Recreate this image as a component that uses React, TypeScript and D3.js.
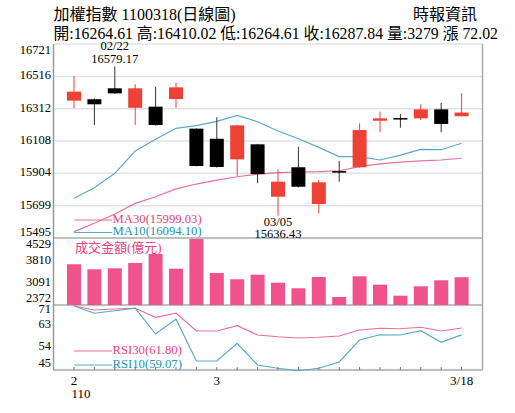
import { useEffect, useRef } from 'react'
import * as d3 from 'd3'

// 日期 (2021/110年 交易日)
const dates = ['02/19', '02/20', '02/22', '02/23', '02/24', '02/25', '02/26', '03/02', '03/03', '03/04',
  '03/05', '03/08', '03/09', '03/10', '03/11', '03/12', '03/15', '03/16', '03/17', '03/18']
const opens = [16363, 16372, 16441, 16318, 16325, 16373, 16186, 16122, 15992, 16087,
  15756, 15942, 15710, 15918, 15942, 16236, 16253, 16251, 16308, 16264.61]
const highs = [16519, 16378, 16579.17, 16466, 16451, 16476, 16188, 16258, 16210, 16090,
  15929, 16072, 15861, 15983, 16220, 16293, 16279, 16340, 16350, 16410.02]
const lows = [16315, 16209, 16405, 16209, 16205, 16318, 15948, 15940, 15887, 15841,
  15636.43, 15815, 15651, 15851, 15940, 16163, 16192, 16241, 16163, 16264.61]
const closes = [16420, 16340, 16409, 16441, 16209, 16447, 15950, 15944, 16207, 15899,
  15851, 15819, 15847, 15908, 16177, 16251, 16245, 16308, 16215.82, 16287.84]
const ma10 = [15746, 15813, 15904, 16045, 16119, 16188, 16205, 16232, 16270, 16230,
  16171, 16122, 16068, 16009, 16009, 15988, 16019, 16055, 16053, 16094.1]
const ma30 = [15535, 15588, 15647, 15714, 15756, 15805, 15836, 15861, 15882, 15899,
  15908, 15912, 15914, 15920, 15946, 15963, 15975, 15982, 15988, 15999.03]
const volumes = [3703, 3539, 3572, 3745, 4040, 3559, 4529, 3418, 3212, 3363,
  3101, 2918, 3288, 2634, 3310, 3036, 2676, 2983, 3180, 3279]
const rsi30 = [70.6, 69.0, 69.4, 69.7, 66.1, 67.7, 60.6, 60.6, 62.7, 59.0,
  58.3, 57.8, 58.1, 58.6, 61.0, 61.7, 61.5, 62.1, 60.6, 61.8]
const rsi10 = [70.6, 67.7, 68.7, 69.7, 59.4, 65.3, 48.6, 48.6, 55.7, 47.0,
  45.7, 44.7, 45.7, 48.2, 57.0, 59.1, 59.0, 60.7, 56.1, 59.07]

const priceTicks = [15495, 15699, 15904, 16108, 16312, 16516, 16721]
const volTicks = [2372, 3091, 3810, 4529]
const rsiTicks = [45, 54, 63, 71]
const monthLabels = [{ i: 0, text: '2' }, { i: 7, text: '3' }, { i: 19, text: '3/18' }]

const W = 515
const H = 413
const L = 53.5
const R = 482.5
const TOP = 44
const P_BOT = 238
const V_BOT = 305
const R_BOT = 370

const RED = '#ee4136'
const PINK_BAR = '#f0528b'
const MA10_C = '#5aa9c6'
const MA30_C = '#e57394'
const MA10_TXT = '#1a96b4'
const MA30_TXT = '#e8437c'
const SERIF = '"Liberation Serif", "Times New Roman", "Noto Sans CJK TC", serif'

export default function App() {
  const svgRef = useRef<SVGSVGElement>(null)

  useEffect(() => {
    const svg = d3.select(svgRef.current)
    svg.selectAll('*').remove()
    svg.attr('font-family', SERIF)

    const n = dates.length
    const x = d3.scaleLinear().domain([0, n - 1]).range([74, 461.6])
    const yP = d3.scaleLinear().domain([15495, 16721]).range([P_BOT, TOP])
    const yV = d3.scaleLinear().domain([2372, 4529]).range([V_BOT, 239])
    const yR = d3.scaleLinear().domain([45, 71]).range([R_BOT, 305])
    const bw = 14

    // ── 標題 ──
    svg.append('text').attr('x', L).attr('y', 20).attr('font-size', 16)
      .text('加權指數 1100318(日線圖)')
    svg.append('text').attr('x', 477).attr('y', 20).attr('font-size', 16)
      .attr('text-anchor', 'end').text('時報資訊')
    const last = n - 1
    const chg = closes[last] - closes[last - 1]
    svg.append('text').attr('x', L).attr('y', 39).attr('font-size', 15.8)
      .text(`開:${opens[last].toFixed(2)} 高:${highs[last].toFixed(2)} 低:${lows[last].toFixed(2)} 收:${closes[last].toFixed(2)} 量:${volumes[last]} 漲 ${chg.toFixed(2)}`)

    // ── 格線 ──
    priceTicks.slice(1, -1).forEach((t) => {
      svg.append('line').attr('x1', L).attr('x2', R).attr('y1', yP(t)).attr('y2', yP(t))
        .attr('stroke', '#e2e2e2').attr('stroke-width', 1.5)
    })
    svg.append('line').attr('x1', L).attr('x2', R).attr('y1', TOP).attr('y2', TOP)
      .attr('stroke', '#e2e2e2').attr('stroke-width', 1.5)
    ;[P_BOT, V_BOT, R_BOT].forEach((yy) => {
      svg.append('line').attr('x1', L).attr('x2', R).attr('y1', yy).attr('y2', yy)
        .attr('stroke', '#aaa').attr('stroke-width', 1.5)
    })
    svg.append('line').attr('x1', L).attr('x2', L).attr('y1', TOP).attr('y2', R_BOT)
      .attr('stroke', '#999').attr('stroke-width', 1.5)
    svg.append('line').attr('x1', R).attr('x2', R).attr('y1', TOP).attr('y2', R_BOT)
      .attr('stroke', '#aaa').attr('stroke-width', 1.5)

    // ── 左側刻度 ──
    const tickLabel = (v: number, yy: number) =>
      svg.append('text').attr('x', 51).attr('y', yy).attr('font-size', 12.5)
        .attr('text-anchor', 'end').attr('dominant-baseline', 'middle').text(v)
    priceTicks.forEach((t, i) => {
      const yy = i === 0 ? yP(t) - 4.5 : i === priceTicks.length - 1 ? yP(t) + 7 : yP(t)
      tickLabel(t, yy)
    })
    volTicks.forEach((t, i) => {
      const yy = i === 0 ? yV(t) - 6 : i === volTicks.length - 1 ? yV(t) + 6 : yV(t)
      tickLabel(t, yy)
    })
    rsiTicks.forEach((t, i) => {
      const yy = i === 0 ? yR(t) - 6 : i === rsiTicks.length - 1 ? yR(t) + 5 : yR(t)
      tickLabel(t, yy)
    })

    // ── 均線 ──
    const idx = d3.range(n)
    const lineP = (arr: number[]) => d3.line<number>().x((i) => x(i)).y((i) => yP(arr[i]))(idx)
    svg.append('path').attr('d', lineP(ma30)).attr('fill', 'none')
      .attr('stroke', MA30_C).attr('stroke-width', 1.2)
    svg.append('path').attr('d', lineP(ma10)).attr('fill', 'none')
      .attr('stroke', MA10_C).attr('stroke-width', 1.2)

    // ── K 線 ──
    idx.forEach((i) => {
      const up = closes[i] >= opens[i]
      const col = up ? RED : '#000'
      svg.append('line').attr('x1', x(i)).attr('x2', x(i))
        .attr('y1', yP(highs[i])).attr('y2', yP(lows[i]))
        .attr('stroke', up ? RED : '#333').attr('stroke-width', 1)
      const top = yP(Math.max(opens[i], closes[i]))
      const bot = yP(Math.min(opens[i], closes[i]))
      svg.append('rect').attr('x', x(i) - bw / 2).attr('y', top)
        .attr('width', bw).attr('height', Math.max(1.5, bot - top)).attr('fill', col)
    })

    // ── 最高/最低標示 ──
    const hi = d3.maxIndex(highs)
    const lo = d3.minIndex(lows)
    const ann = (i: number, y1: number, y2: number, v: number) => {
      svg.append('text').attr('x', x(i)).attr('y', y1).attr('font-size', 12.5)
        .attr('text-anchor', 'middle').text(dates[i])
      svg.append('text').attr('x', x(i)).attr('y', y2).attr('font-size', 12.5)
        .attr('text-anchor', 'middle').text(v.toFixed(2))
    }
    ann(hi, yP(highs[hi]) - 16, yP(highs[hi]) - 3.5, highs[hi])
    ann(lo, yP(lows[lo]) + 10.5, yP(lows[lo]) + 22, lows[lo])

    // ── 圖例 ──
    const legend = (yy: number, color: string, txtColor: string, text: string) => {
      svg.append('line').attr('x1', 74).attr('x2', 112).attr('y1', yy).attr('y2', yy)
        .attr('stroke', color).attr('stroke-width', 1)
      svg.append('text').attr('x', 112.5).attr('y', yy).attr('font-size', 12.7)
        .attr('dominant-baseline', 'middle').attr('fill', txtColor).text(text)
    }
    legend(220, MA30_C, MA30_TXT, `MA30(${ma30[last].toFixed(2)})`)
    legend(232.5, MA10_C, MA10_TXT, `MA10(${ma10[last].toFixed(2)})`)

    // ── 成交金額 ──
    idx.forEach((i) => {
      svg.append('rect').attr('x', x(i) - bw / 2).attr('y', yV(volumes[i]))
        .attr('width', bw).attr('height', V_BOT - yV(volumes[i])).attr('fill', PINK_BAR)
    })
    svg.append('text').attr('x', 75).attr('y', 252).attr('font-size', 13)
      .attr('fill', MA30_TXT).text('成交金額(億元)')

    // ── RSI ──
    const lineR = (arr: number[]) => d3.line<number>().x((i) => x(i)).y((i) => yR(arr[i]))(idx)
    svg.append('path').attr('d', lineR(rsi30)).attr('fill', 'none')
      .attr('stroke', MA30_C).attr('stroke-width', 1.2)
    svg.append('path').attr('d', lineR(rsi10)).attr('fill', 'none')
      .attr('stroke', MA10_C).attr('stroke-width', 1.2)
    legend(351, MA30_C, MA30_TXT, `RSI30(${rsi30[last].toFixed(2)})`)
    legend(365, MA10_C, MA10_TXT, `RSI10(${rsi10[last].toFixed(2)})`)

    // ── X 軸 ──
    idx.forEach((i) => {
      svg.append('line').attr('x1', x(i)).attr('x2', x(i)).attr('y1', R_BOT).attr('y2', R_BOT - 3)
        .attr('stroke', '#777').attr('stroke-width', 1)
    })
    monthLabels.forEach(({ i, text }) => {
      svg.append('text').attr('x', x(i)).attr('y', 385).attr('font-size', 13)
        .attr('text-anchor', 'middle').text(text)
    })
    svg.append('text').attr('x', 71.5).attr('y', 398).attr('font-size', 13).text('110')
  }, [])

  return (
    <svg ref={svgRef} width={W} height={H}
      style={{ position: 'absolute', left: 0, top: 0, background: '#fff' }} />
  )
}
